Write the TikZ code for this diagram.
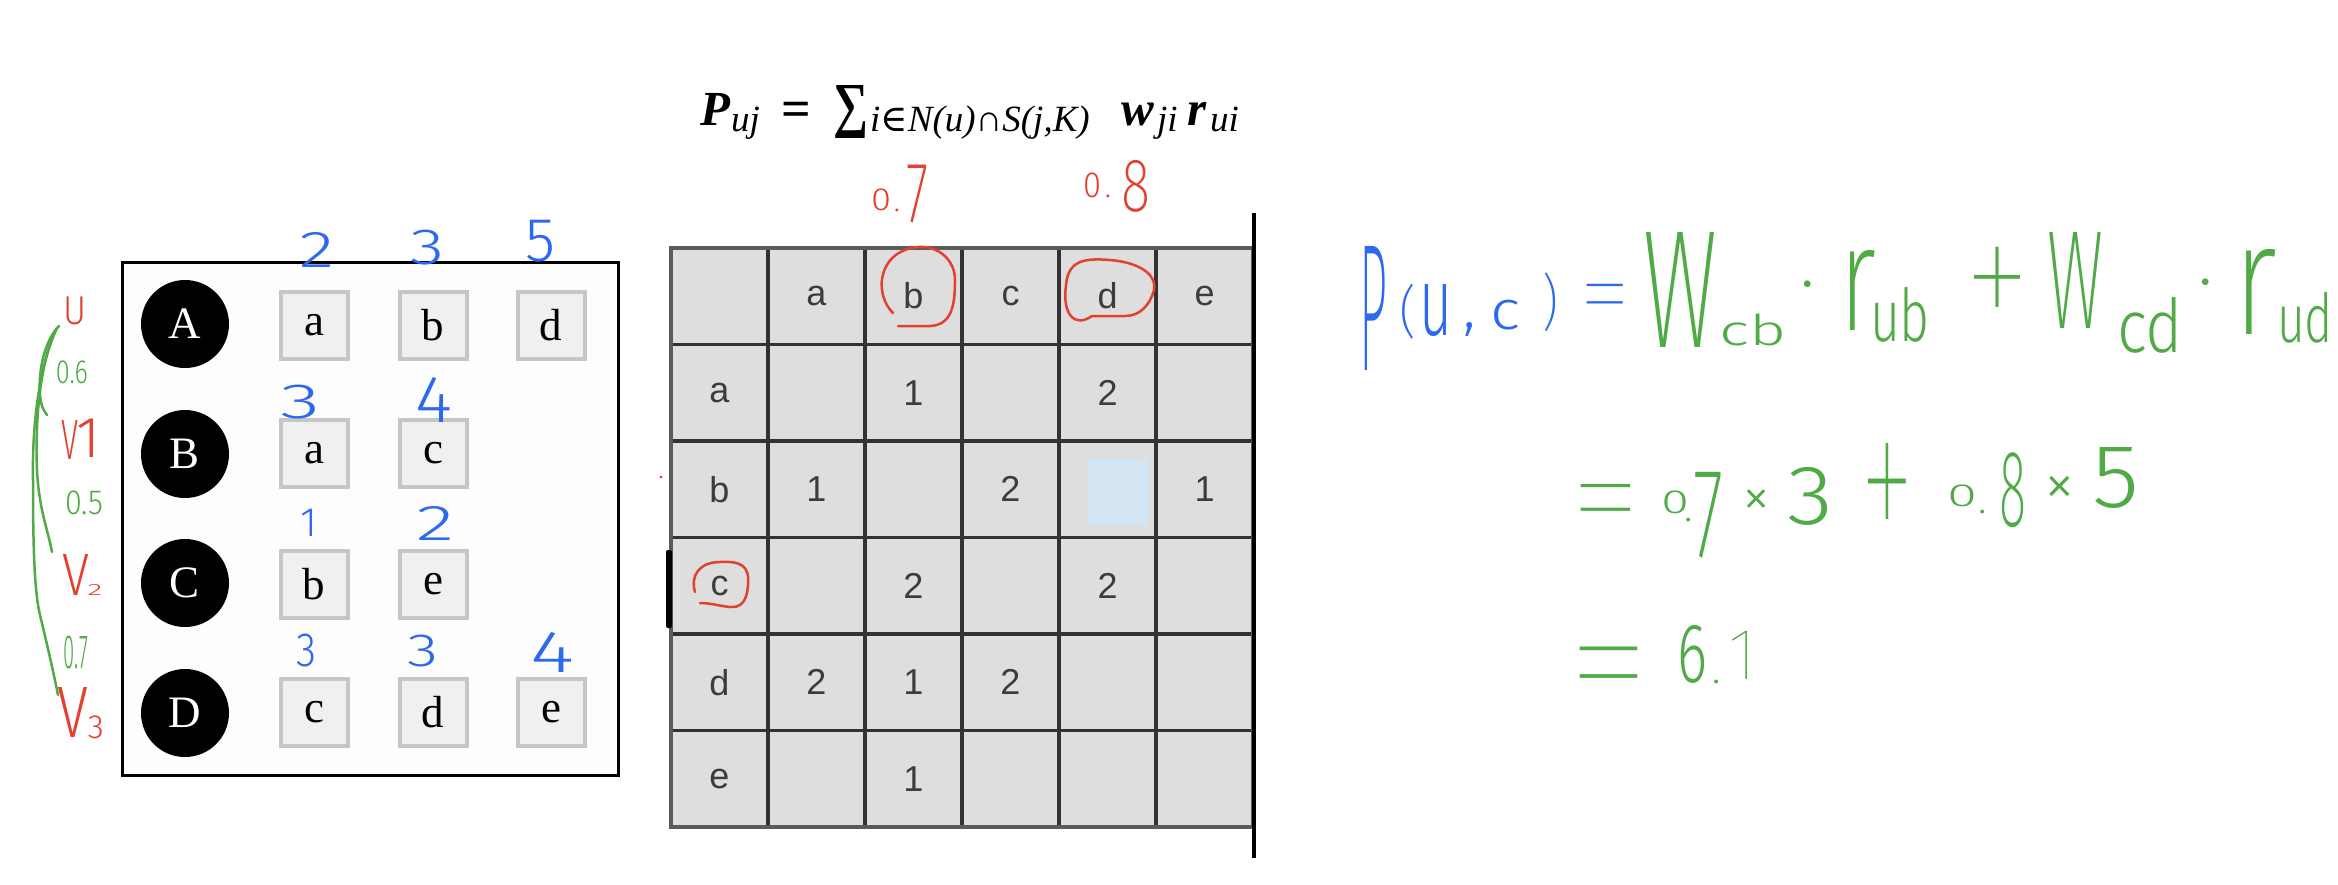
\documentclass[tikz,border=0pt]{standalone}
\usepackage{fontspec}
\usepackage{graphicx}
\newfontfamily\hand{Fira Sans Light}
\IfFontExistsTF{Fira Sans Thin}{\newfontfamily\handT{Fira Sans Thin}}{\newfontfamily\handT{Fira Sans Light}}
\IfFontExistsTF{Fira Sans ExtraLight}{\newfontfamily\handX{Fira Sans ExtraLight}}{\newfontfamily\handX{Fira Sans Light}}
\newfontfamily\tabfont{Liberation Sans}
\newfontfamily\boxfont{Liberation Serif}
\newfontfamily\symfont{DejaVu Serif}
\newcommand\hw[3]{\resizebox*{#1pt}{#2pt}{\hand #3}}
\newcommand\hwt[3]{\resizebox*{#1pt}{#2pt}{\handX #3}}
\newcommand\hf[2]{{\hand\fontsize{#1}{#1}\selectfont #2}}
\newcommand\hft[2]{{\handT\fontsize{#1}{#1}\selectfont #2}}
\newcommand\fmain{\boxfont\bfseries\itshape\fontsize{49}{49}\selectfont}
\newcommand\fsubs{\boxfont\itshape\fontsize{37}{37}\selectfont}
\definecolor{handblue}{RGB}{45,105,240}
\definecolor{handgreen}{RGB}{80,170,70}
\definecolor{handred}{RGB}{225,65,45}
\definecolor{itemgray}{RGB}{198,198,198}
\definecolor{itemfill}{RGB}{240,240,240}
\definecolor{tabfill}{RGB}{222,222,222}
\definecolor{tabline}{RGB}{50,50,50}
\definecolor{tabtext}{RGB}{60,60,60}
\definecolor{cellblue}{RGB}{211,229,243}
\definecolor{boxfill}{RGB}{253,253,253}
\begin{document}
\begin{tikzpicture}[x=1pt,y=-1pt,
  hb/.style={text=handblue, inner sep=0, outer sep=0},
  hg/.style={text=handgreen, inner sep=0, outer sep=0},
  hr/.style={text=handred, inner sep=0, outer sep=0},
  fm/.style={anchor=base west, inner sep=0, font=\fmain},
  fs/.style={anchor=base west, inner sep=0, font=\fsubs},
  user/.style={circle, fill=black, minimum size=88, inner sep=0, text=white, font=\boxfont\fontsize{45}{45}\selectfont},
  item/.style={draw=itemgray, line width=4, fill=itemfill, minimum size=67, inner sep=0, font=\boxfont\fontsize{45}{45}\selectfont},
  cell/.style={font=\tabfont\fontsize{36}{36}\selectfont, text=tabtext, inner sep=0},
  gstroke/.style={draw=handgreen, line width=2.5, line cap=round, line join=round},
  rstroke/.style={draw=handred, line width=2.5, line cap=round, line join=round}]
\useasboundingbox (0,0) rectangle (2338,884);
\fill[white] (0,0) rectangle (2338,884);

% formula
\node[fm] (fP) at (700,125) {P};
\node[fs] (fuj) at (731,131) {uj};
\node[anchor=base west, inner sep=0, font=\boxfont\bfseries\fontsize{52}{52}\selectfont] (feq) at (781,126) {=};
\node[inner sep=0] (fsum) at (851,111.5) {\resizebox*{35pt}{53pt}{\boxfont\bfseries ∑}};
\node[fs] (fsub) at (870,131) {i{\symfont ∈}N(u)∩S(j,K)};
\node[fm] (fw) at (1121,125) {w};
\node[fs] (fji) at (1157,131) {ji};
\node[fm] (fr) at (1187,125) {r};
\node[fs] (fui) at (1210,131) {ui};

% left frame
\node[draw=black, line width=3, fill=boxfill, minimum width=496, minimum height=513, inner sep=0] (frame) at (370,518.5) {};
\node[user] (uA) at (185,324) {A};
\node[user] (uB) at (185,454) {B};
\node[user] (uC) at (185,583) {C};
\node[user] (uD) at (185,713) {D};
\node[item] (Aa) at (314,325) {a};
\node[item] (Ab) at (433,325) {b};
\node[item] (Ad) at (551,325) {d};
\node[item] (Ba) at (314,453) {a};
\node[item] (Bc) at (433,453) {c};
\node[item] (Cb) at (314,584) {b};
\node[item] (Ce) at (433,584) {e};
\node[item] (Dc) at (314,712) {c};
\node[item] (Dd) at (433,712) {d};
\node[item] (De) at (551,712) {e};

% table
\fill[tabfill] (671,248) rectangle (1253,827);
\fill[cellblue] (1088,458) rectangle (1149,526);
\foreach \i in {1,...,5} {
  \draw[tabline, line width=3.5] ({671+97*\i},248) -- ({671+97*\i},827);
  \draw[tabline, line width=3.5] (671,{248+96.5*\i}) -- (1253,{248+96.5*\i});
}
\draw[draw=tabline!80, line width=3.5] (671,248) rectangle (1253,827);
\draw[black, line width=4] (1254,213) -- (1254,858);
\fill[black, rounded corners=2] (666,550) rectangle (672,628);
\fill[handred] (661,477) circle (1.5);
\foreach \c [count=\i] in {a,b,c,d,e} {
  \node[cell] (col\c) at ({671+97*(\i+0.5)},296) {\c};
  \node[cell] (row\c) at (719.5,{248+96.5*(\i+0.5)}) {\c};
}
\foreach \r/\c/\v in {1/2/1,1/4/2,2/1/1,2/3/2,2/5/1,3/2/2,3/4/2,4/1/2,4/2/1,4/3/2,5/2/1}
  \node[cell] (v\r\c) at ({671+97*(\c+0.5)},{248+96.5*(\r+0.5)}) {\v};

% red circles on table
\draw[rstroke] (893,313) .. controls (875,295) and (878,260) .. (905,250)
  .. controls (930,240) and (955,255) .. (955,280)
  .. controls (955,305) and (952,325) .. (930,326) -- (898,326);
\draw[rstroke] (1092,316) .. controls (1075,328) and (1062,315) .. (1066,285)
  .. controls (1068,260) and (1085,258) .. (1110,260)
  .. controls (1135,262) and (1157,272) .. (1154,290)
  .. controls (1150,305) and (1140,316) .. (1125,316) -- (1092,316);
\draw[rstroke] (695,592) .. controls (690,575) and (700,562) .. (720,562)
  .. controls (740,561) and (750,565) .. (748,585)
  .. controls (747,600) and (742,608) .. (730,607)
  .. controls (720,606) and (710,603) .. (700,603);

% red weights above table
\node[hr] (w7a) at (881,200) {\hw{20}{22}{0}};
\node[hr] (w7b) at (897,210) {\hf{30}{.}};
\node[hr] (w7c) at (917,194) {\hwt{22}{58}{7}};
\node[hr] (w8a) at (1092,185) {\hw{18}{25}{0}};
\node[hr] (w8b) at (1108,196) {\hf{30}{.}};
\node[hr] (w8c) at (1136,186) {\hwt{29}{52}{8}};

% blue ratings above items
\node[hb] (r1) at (317,250) {\hw{35}{35}{2}};
\node[hb] (r2) at (427,248) {\hw{34}{35}{3}};
\node[hb] (r3) at (540,241) {\hw{30}{42}{5}};
\node[hb] (r4) at (300,402) {\hw{40}{34}{3}};
\node[hb] (r5) at (434,400) {\hw{37}{45}{4}};
\node[hb] (r6) at (309,523) {\hf{41}{1}};
\node[hb] (r7) at (435,523) {\hw{38}{34}{2}};
\node[hb] (r8) at (306,651) {\hw{20}{33}{3}};
\node[hb] (r9) at (423,651) {\hw{31}{32}{3}};
\node[hb] (r10) at (552,652) {\hw{44}{40}{4}};

% left labels
\node[hr] (lU) at (75,311) {\hw{23}{28}{U}};
\node[hr] (lV1) at (70.5,440) {\hw{17}{39}{V}};
\node[hr] (lV1s) at (88,438) {\hf{58}{1}};
\node[hr] (lV2) at (76,575) {\hw{27}{41}{V}};
\node[hr] (lV2s) at (95,590) {\hw{15}{11}{2}};
\node[hr] (lV3) at (73,712) {\hw{31}{50}{V}};
\node[hr] (lV3s) at (96,727) {\hw{16}{23}{3}};
\node[hg] (s1) at (72,372) {\hw{32}{23}{0.6}};
\node[hg] (s2) at (84,503) {\hw{38}{24}{0.5}};
\node[hg] (s3) at (76,653) {\hw{24}{33}{0.7}};
\draw[gstroke] (59,326) .. controls (45,340) and (38,370) .. (40,395)
  .. controls (41,405) and (43,410) .. (47,415);
\draw[gstroke] (57,328) .. controls (40,360) and (35,420) .. (37,470)
  .. controls (39,510) and (48,530) .. (52,552);
\draw[gstroke] (56,330) .. controls (38,370) and (32,430) .. (33,480)
  .. controls (33,540) and (34,590) .. (40,615)
  .. controls (46,640) and (52,665) .. (58,695);

% right: line 1
\node[hb] (eP) at (1373,308) {\hwt{28}{124}{P}};
\node[hb] (eLp) at (1408,312) {\hwt{17}{55}{(}};
\node[hb] (eu) at (1436,311) {\hw{33}{52}{u}};
\node[hb] (ecm) at (1470,330) {\hf{60}{,}};
\node[hb] (ec) at (1505,315) {\hw{30}{30}{c}};
\node[hb] (eRp) at (1550,302) {\hwt{16}{59}{)}};
\node[hb] (eq1) at (1605,307) {\hft{110}{=}};
\node[hg] (eW1) at (1680,290) {\hwt{74}{115}{W}};
\node[hg] (ecb) at (1753,330) {\hw{67}{32}{cb}};
\node[hg] (ed1) at (1808,294) {\hf{70}{·}};
\node[hg] (er1) at (1858,290) {\hwt{37}{80}{r}};
\node[hg] (eub) at (1900,315) {\hw{60}{55}{ub}};
\node[hg] (epl1) at (1997,292) {\scalebox{1}[1.3]{\hft{140}{+}}};
\node[hg] (eW2) at (2075,280) {\hwt{56}{96}{W}};
\node[hg] (ecd) at (2150,325) {\hw{66}{56}{cd}};
\node[hg] (ed2) at (2206,292) {\hf{70}{·}};
\node[hg] (er2) at (2255,292) {\hwt{44}{85}{r}};
\node[hg] (eud) at (2305,318) {\hw{56}{51}{ud}};

% right: line 2
\node[hg] (eq2) at (1606,516) {\hft{150}{=}};
\node[hg] (n0a) at (1675,502) {\hw{28}{23}{0}};
\node[hg] (n0b) at (1689,520) {\hf{40}{.}};
\node[hg] (n0c) at (1708,515) {\hwt{30}{86}{7}};
\node[hg] (nx1) at (1757,503) {\hf{57}{×}};
\node[hg] (n3) at (1810,496) {\hw{46}{58}{3}};
\node[hg] (npl) at (1887,500) {\scalebox{1}[2]{\hft{115}{+}}};
\node[hg] (n1a) at (1962,496) {\hw{30}{22}{0}};
\node[hg] (n1b) at (1983,512) {\hf{40}{.}};
\node[hg] (n1c) at (2013,490) {\hwt{27}{75}{8}};
\node[hg] (nx2) at (2060,491) {\hf{62}{×}};
\node[hg] (n5) at (2116,478) {\hw{47}{61}{5}};

% right: line 3
\node[hg] (eq3) at (1609,684) {\hft{175}{=}};
\node[hg] (t6) at (1692,654) {\hw{30}{58}{6}};
\node[hg] (tdot) at (1717,682) {\hf{40}{.}};
\node[hg] (t1) at (1743,655) {\hft{73}{1}};
\end{tikzpicture}
\end{document}
